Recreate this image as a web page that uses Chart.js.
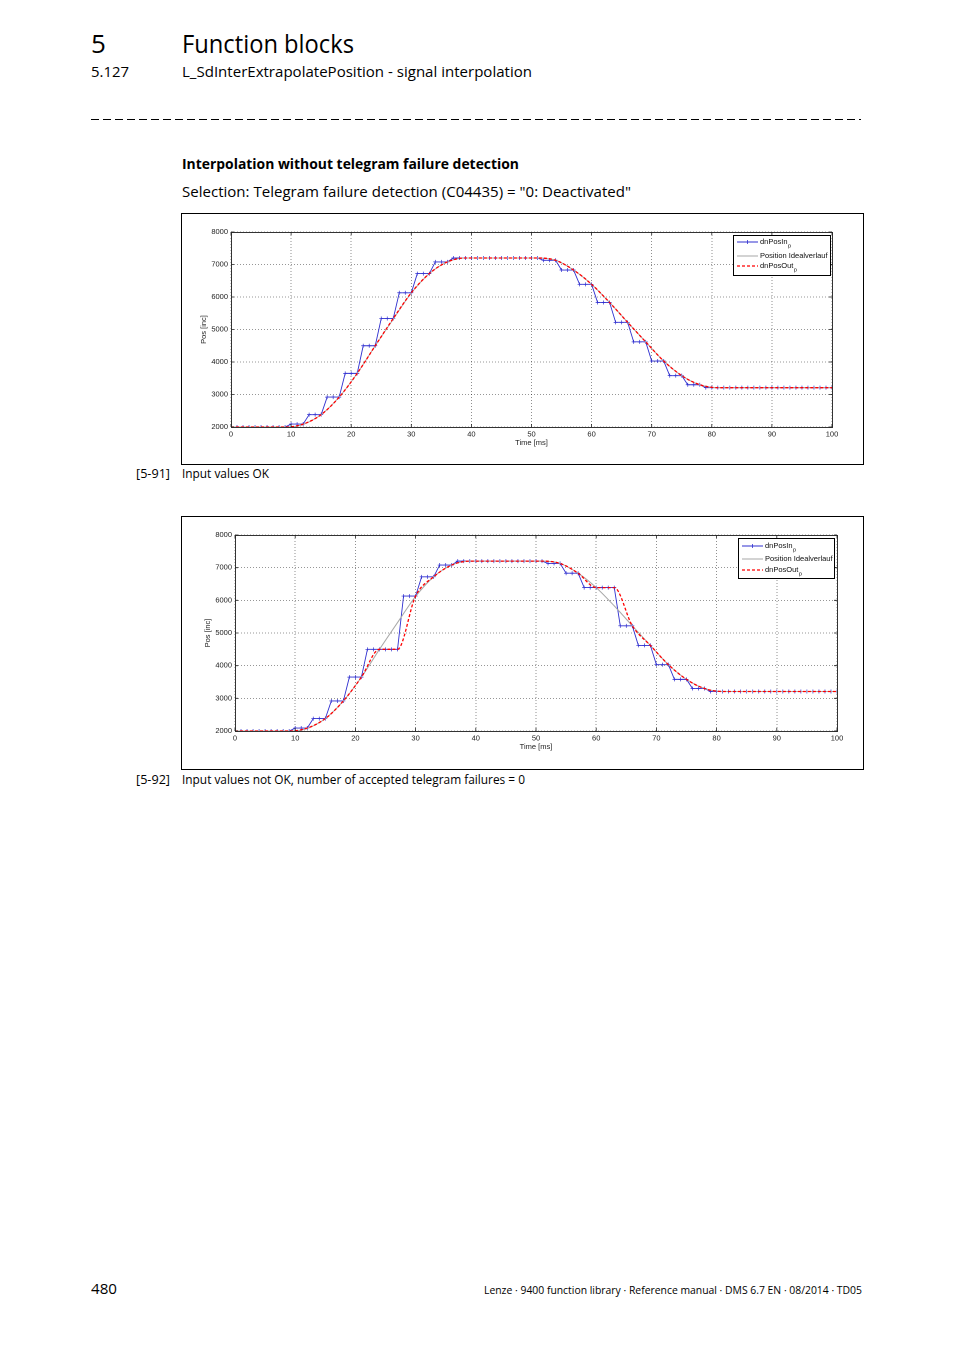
<!DOCTYPE html>
<html>
<head>
<meta charset="utf-8">
<script src="https://cdn.jsdelivr.net/npm/chart.js@4.4.1/dist/chart.umd.min.js"></script>
<style>
html,body{margin:0;padding:0;background:#fff;}
body{width:954px;height:1350px;position:relative;overflow:hidden;font-family:"Open Sans","Noto Sans",sans-serif;color:#000;}
.t{position:absolute;white-space:nowrap;line-height:1;transform-origin:0 0;}
.frame{position:absolute;border:1px solid #000;background:#fff;}
.frame canvas{display:block;}
.dash{position:absolute;left:91px;top:119px;width:770px;height:1.3px;background:repeating-linear-gradient(to right,#000 0 8px,transparent 8px 12px);}
</style>
</head>
<body>
<div class="t" style="left:91px;top:30.4px;font-size:26px;">5</div>
<div class="t" data-w="172" style="left:182px;top:30.4px;font-size:26px;">Function blocks</div>
<div class="t" data-w="38" style="left:91px;top:63.9px;font-size:15px;">5.127</div>
<div class="t" data-w="350" style="left:182px;top:63.9px;font-size:15px;">L_SdInterExtrapolatePosition - signal interpolation</div>
<div class="dash"></div>
<div class="t" data-w="337" style="left:182px;top:156px;font-size:15px;font-weight:700;">Interpolation without telegram failure detection</div>
<div class="t" data-w="449" style="left:182px;top:184px;font-size:15px;">Selection: Telegram failure detection (C04435) = "0: Deactivated"</div>

<div class="frame" style="left:181px;top:213px;width:681px;height:250px;"><canvas id="c1" width="681" height="250"></canvas></div>
<div class="t" data-w="34" style="left:136px;top:467px;font-size:13px;">[5-91]</div>
<div class="t" data-w="87" style="left:182px;top:467px;font-size:13px;">Input values OK</div>

<div class="frame" style="left:181px;top:516px;width:681px;height:252px;"><canvas id="c2" width="681" height="252"></canvas></div>
<div class="t" data-w="34" style="left:136px;top:772.5px;font-size:13px;">[5-92]</div>
<div class="t" data-w="343" style="left:182px;top:772.5px;font-size:13px;">Input values not OK, number of accepted telegram failures = 0</div>

<div class="t" data-w="26" style="left:91px;top:1280.7px;font-size:15px;">480</div>
<div class="t" data-w="378" style="left:484px;top:1284.2px;font-size:11px;">Lenze · 9400 function library · Reference manual · DMS 6.7 EN · 08/2014 · TD05</div>

<script>
// ---------------- DATA ----------------
const xTicks = [0,10,20,30,40,50,60,70,80,90,100];
const yTicks = [2000,3000,4000,5000,6000,7000,8000];

// sample times of dnPosIn_p [ms]
const timeIn = [1,2,3,4,5,6,7,8,9,10,11,12,13,14,15,16,17,18,19,20,
  21,22,23,24,25,26,27,28,29,30,31,32,33,34,35,36,37,38,39,40,
  41,42,43,44,45,46,47,48,49,50,51,52,53,54,55,56,57,58,59,60,
  61,62,63,64,65,66,67,68,69,70,71,72,73,74,75,76,77,78,79,80,
  81,82,83,84,85,86,87,88,89,90,91,92,93,94,95,96,97,98,99,100];

// Figure 5-91: input values OK
const posIn1 = [2000,2000,2000,2000,2000,2000,2000,2000,2000,
  2090,2090,2090, 2380,2380,2380, 2920,2920,2920, 3650,3650,3650,
  4500,4500,4500, 5340,5340,5340, 6130,6130,6130, 6720,6720,6720,
  7080,7080,7080,
  7200,7200,7200,7200,7200,7200,7200,7200,7200,7200,7200,7200,7200,7200,7200,
  7130,7130,7130, 6830,6830,6830, 6390,6390,6390, 5830,5830,5830,
  5220,5220,5220, 4620,4620,4620, 4030,4030,4030, 3580,3580,3580,
  3300,3300,3300,
  3210,3210,3210,3210,3210,3210,3210,3210,3210,3210,3210,
  3210,3210,3210,3210,3210,3210,3210,3210,3210,3210,3210];

// Figure 5-92: input values not OK (telegrams missing at 25 ms and 61 ms)
const posIn2 = [2000,2000,2000,2000,2000,2000,2000,2000,2000,
  2090,2090,2090, 2380,2380,2380, 2920,2920,2920, 3650,3650,3650,
  4500,4500,4500, 4500,4500,4500, 6130,6130,6130, 6720,6720,6720,
  7080,7080,7080,
  7200,7200,7200,7200,7200,7200,7200,7200,7200,7200,7200,7200,7200,7200,7200,
  7130,7130,7130, 6830,6830,6830, 6390,6390,6390, 6390,6390,6390,
  5220,5220,5220, 4620,4620,4620, 4030,4030,4030, 3580,3580,3580,
  3300,3300,3300,
  3210,3210,3210,3210,3210,3210,3210,3210,3210,3210,3210,
  3210,3210,3210,3210,3210,3210,3210,3210,3210,3210,3210];

// Ideal position curve (Position Idealverlauf)
const idealT = [0,10,12,15,18,21,24,27,30,33,36,39,51,54,57,60,63,66,69,72,75,78,81,100];
const idealY = [2000,2000,2080,2380,2920,3650,4500,5320,6120,6720,7080,7200,
  7200,7130,6830,6390,5830,5220,4620,4030,3580,3300,3210,3210];

// dnPosOut_p
const outT  = [0,9,12,15,18,21,24,27,30,33,36,39,51,54,57,60,63,66,69,72,75,78,81,100];
const outY1 = [2000,2000,2090,2380,2920,3650,4500,5340,6130,6720,7080,7200,
  7200,7130,6830,6390,5830,5220,4620,4030,3580,3300,3210,3210];
const outY2 = [2000,2000,2090,2380,2920,3650,4500,4500,6130,6720,7080,7200,
  7200,7130,6830,6390,6390,5220,4620,4030,3580,3300,3210,3210];

const seriesNames = ['dnPosIn', 'Position Idealverlauf', 'dnPosOut'];
const seriesSubs  = ['p', '', 'p'];

// ---------------- STYLE / CHART ----------------
Chart.defaults.font.family = '"Liberation Sans", Arial, sans-serif';
Chart.defaults.font.size = 7.5;
Chart.defaults.color = '#222';

const pts = (xs, ys) => xs.map((x, i) => ({x: x, y: ys[i]}));

const boxPlugin = {
  id: 'matlabBox',
  afterDraw(chart) {
    const {ctx, chartArea: a, scales} = chart;
    ctx.save();
    ctx.strokeStyle = '#333';
    ctx.lineWidth = 1;
    ctx.strokeRect(Math.round(a.left) + 0.5, Math.round(a.top) + 0.5,
      Math.round(a.right - a.left), Math.round(a.bottom - a.top));
    ctx.strokeStyle = '#222';
    ctx.lineWidth = 0.8;
    ctx.beginPath();
    xTicks.forEach(v => {
      const px = scales.x.getPixelForValue(v);
      ctx.moveTo(px, a.bottom); ctx.lineTo(px, a.bottom - 3);
      ctx.moveTo(px, a.top); ctx.lineTo(px, a.top + 3);
    });
    yTicks.forEach(v => {
      const py = scales.y.getPixelForValue(v);
      ctx.moveTo(a.left, py); ctx.lineTo(a.left + 3, py);
      ctx.moveTo(a.right, py); ctx.lineTo(a.right - 3, py);
    });
    ctx.stroke();
    ctx.restore();
  }
};

const legendPlugin = {
  id: 'matlabLegend',
  afterDraw(chart, args, o) {
    const {ctx, chartArea: a} = chart;
    const x0 = Math.round(a.right - o.dx - o.w), y0 = Math.round(a.top + o.dy);
    ctx.save();
    ctx.fillStyle = '#fff';
    ctx.fillRect(x0, y0, o.w, o.h);
    ctx.strokeStyle = '#000';
    ctx.lineWidth = 1;
    ctx.strokeRect(x0 + 0.5, y0 + 0.5, o.w, o.h);
    [0, 1, 2].forEach((di, k) => {
      const ds = chart.data.datasets[di];
      const y = y0 + o.rows[k];
      ctx.save();
      ctx.strokeStyle = ds.borderColor;
      ctx.lineWidth = ds.borderWidth;
      ctx.setLineDash(ds.borderDash || []);
      ctx.beginPath();
      ctx.moveTo(x0 + 4, y); ctx.lineTo(x0 + 25, y);
      ctx.stroke();
      ctx.setLineDash([]);
      if (ds.pointRadius > 0) {
        ctx.lineWidth = 0.8;
        ctx.beginPath();
        ctx.moveTo(x0 + 14.5 - 2, y); ctx.lineTo(x0 + 14.5 + 2, y);
        ctx.moveTo(x0 + 14.5, y - 2); ctx.lineTo(x0 + 14.5, y + 2);
        ctx.stroke();
      }
      ctx.restore();
      ctx.fillStyle = '#111';
      ctx.font = '7.5px "Liberation Sans", Arial, sans-serif';
      ctx.textBaseline = 'middle';
      ctx.fillText(seriesNames[k], x0 + 27, y);
      if (seriesSubs[k]) {
        const w = ctx.measureText(seriesNames[k]).width;
        ctx.font = '5.5px "Liberation Sans", Arial, sans-serif';
        ctx.fillText(seriesSubs[k], x0 + 27 + w + 0.5, y + 4);
      }
    });
    ctx.restore();
  }
};

function makeChart(id, posIn, outY, L) {
  return new Chart(document.getElementById(id), {
    type: 'line',
    data: {
      datasets: [
        {label: 'dnPosIn_p', data: pts(timeIn, posIn), borderColor: '#3030d0', borderWidth: 0.9,
         pointStyle: 'cross', pointRadius: 2, pointBorderWidth: 0.7, pointBorderColor: '#3030d0',
         pointBackgroundColor: '#3030d0', tension: 0, order: 3},
        {label: 'Position Idealverlauf', data: pts(idealT, idealY), borderColor: '#a8a8a8', borderWidth: 1,
         pointRadius: 0, cubicInterpolationMode: 'monotone', order: 2},
        {label: 'dnPosOut_p', data: pts(outT, outY), borderColor: '#ff0000', borderWidth: 1.3,
         borderDash: [3, 2], pointRadius: 0, cubicInterpolationMode: 'monotone', order: 1}
      ]
    },
    options: {
      responsive: false,
      animation: false,
      devicePixelRatio: 2,
      layout: {padding: {top: L.padTop, right: L.padRight, left: 0, bottom: 0}},
      plugins: {
        legend: {display: false},
        tooltip: {enabled: false},
        matlabLegend: L.legend
      },
      scales: {
        x: {
          type: 'linear', min: 0, max: 100,
          afterBuildTicks: s => { s.ticks = xTicks.map(v => ({value: v})); },
          ticks: {padding: 3, autoSkip: false, maxRotation: 0, color: '#222', font: {size: 7.5},
                  callback: v => String(v)},
          grid: {color: 'rgba(0,0,0,0.55)', lineWidth: 0.8, drawTicks: false},
          border: {display: false, dash: [1, 2]},
          title: {display: true, text: 'Time [ms]', color: '#222', font: {size: 7.5},
                  padding: {top: 0, bottom: L.xTitlePad}},
          afterFit: s => { s.height = L.xHeight; }
        },
        y: {
          type: 'linear', min: 2000, max: 8000,
          afterBuildTicks: s => { s.ticks = yTicks.map(v => ({value: v})); },
          ticks: {padding: 3, autoSkip: false, color: '#222', font: {size: 7.5},
                  callback: v => String(v)},
          grid: {color: 'rgba(0,0,0,0.55)', lineWidth: 0.8, drawTicks: false},
          border: {display: false, dash: [1, 2]},
          title: {display: true, text: 'Pos [inc]', color: '#222', font: {size: 7.5},
                  padding: {top: L.yTitlePad, bottom: 0}},
          afterFit: s => { s.width = L.yWidth; }
        }
      }
    },
    plugins: [boxPlugin, legendPlugin]
  });
}

function fitTexts() {
  document.querySelectorAll('.t[data-w]').forEach(el => {
    el.style.transform = 'none';
    const nat = el.getBoundingClientRect().width;
    if (nat > 0) el.style.transform = 'scaleX(' + (+el.dataset.w / nat) + ')';
  });
}

(document.fonts && document.fonts.ready ? document.fonts.ready : Promise.resolve()).then(() => {
  fitTexts();
  makeChart('c1', posIn1, outY1, {padTop: 18, padRight: 31, yWidth: 49, xHeight: 37,
    xTitlePad: 16.5, yTitlePad: 17.5,
    legend: {w: 97, h: 40, dx: 2, dy: 3, rows: [7, 21, 31]}});
  makeChart('c2', posIn2, outY2, {padTop: 18, padRight: 26, yWidth: 53, xHeight: 38,
    xTitlePad: 17.5, yTitlePad: 21.5,
    legend: {w: 96, h: 40, dx: 3, dy: 3, rows: [8, 21, 32]}});
});
</script>
</body>
</html>
